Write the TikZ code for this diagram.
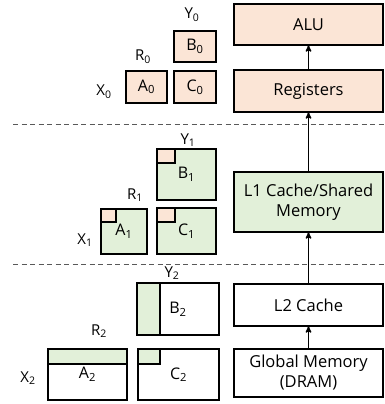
\documentclass[tikz,border=0pt]{standalone}
\usepackage{fontspec}
\setmainfont{Open Sans}
\usetikzlibrary{arrows}

\definecolor{regfill}{HTML}{FBE5D6}
\definecolor{smemfill}{HTML}{E2F0D9}

\begin{document}
\begin{tikzpicture}
	[x=1pt,y=-1pt,>=stealth',
		level node/.style={draw,line width=1.3pt,outer sep=0pt,inner sep=0pt,minimum width=149pt,align=center,font=\fontsize{16.5}{20}\selectfont},
		tile node/.style={draw,line width=1.8pt,outer sep=0pt,inner sep=0pt,font=\fontsize{16}{19}\selectfont},
		tile part/.style={draw,line width=1.8pt},
		name node/.style={inner sep=0pt,font=\fontsize{15}{17}\selectfont},
		level line/.style={dashed,dash pattern=on 5pt off 3.5pt,line width=1pt,black!65}]

	\useasboundingbox (0,0) rectangle (384,404);

	% memory hierarchy
	\node[level node, fill=regfill, minimum height=41pt]  (ALU)  at (308.5,24.5) {ALU};
	\node[level node, fill=regfill, minimum height=42pt]  (Reg)  at (308.5,91)   {Registers};
	\node[level node, fill=smemfill, minimum height=60pt] (L1)   at (308.5,202)  {L1 Cache/Shared\\Memory};
	\node[level node, minimum height=42pt]                (L2)   at (308.5,305)  {L2 Cache};
	\node[level node, minimum height=48pt]                (Glob) at (308.5,373)  {Global Memory\\(DRAM)};

	\path[->,line width=1.3pt]
	(Reg)  edge (ALU)
	(L1)   edge (Reg)
	(L2)   edge (L1)
	(Glob) edge (L2)
	;

	% level separators
	\coordinate (s1l) at (13,124);
	\coordinate (s1r) at (384,124);
	\coordinate (s2l) at (13,264);
	\coordinate (s2r) at (384,264);
	\draw[level line] (s1l) -- (s1r);
	\draw[level line] (s2l) -- (s2r);

	% register tiles
	\node[tile node, fill=regfill, minimum width=41pt, minimum height=32pt] (A0) at (146.5,87)  {A\textsubscript{0}};
	\node[tile node, fill=regfill, minimum width=42pt, minimum height=31pt] (B0) at (195,46.5)  {B\textsubscript{0}};
	\node[tile node, fill=regfill, minimum width=42pt, minimum height=32pt] (C0) at (195,87)    {C\textsubscript{0}};
	\node[name node] (X0) at (104,92)  {X\textsubscript{0}};
	\node[name node] (R0) at (143,57)  {R\textsubscript{0}};
	\node[name node] (Y0) at (192,15)  {Y\textsubscript{0}};

	% shared memory tiles
	\node[tile node, fill=smemfill, minimum width=46pt, minimum height=45pt] (A1) at (124,231.5)   {A\textsubscript{1}};
	\node[tile node, fill=smemfill, minimum width=59pt, minimum height=51pt] (B1) at (186.5,174.5) {B\textsubscript{1}};
	\node[tile node, fill=smemfill, minimum width=59pt, minimum height=46pt] (C1) at (186.5,231)   {C\textsubscript{1}};
	\draw[tile part, fill=regfill] (A1.north west) rectangle ++(15,13);
	\draw[tile part, fill=regfill] (B1.north west) rectangle ++(18,14);
	\draw[tile part, fill=regfill] (C1.north west) rectangle ++(18,14);
	\node[name node] (X1) at (85,240)  {X\textsubscript{1}};
	\node[name node] (R1) at (135,195) {R\textsubscript{1}};
	\node[name node] (Y1) at (188,140) {Y\textsubscript{1}};

	% global memory tiles
	\node[tile node, fill=white, minimum width=79pt, minimum height=51pt] (A2) at (87.5,374.5) {A\textsubscript{2}};
	\node[tile node, fill=white, minimum width=82pt, minimum height=52pt] (B2) at (178,309)    {B\textsubscript{2}};
	\node[tile node, fill=white, minimum width=81pt, minimum height=51pt] (C2) at (178.5,374.5) {C\textsubscript{2}};
	\draw[tile part, fill=smemfill] (A2.north west) rectangle (A2.east |- 0,364);
	\draw[tile part, fill=smemfill] (B2.north west) rectangle (160,0 |- B2.south);
	\draw[tile part, fill=smemfill] (C2.north west) rectangle ++(22,15);
	\node[name node] (X2) at (28,378)  {X\textsubscript{2}};
	\node[name node] (R2) at (99,331)  {R\textsubscript{2}};
	\node[name node] (Y2) at (172,273) {Y\textsubscript{2}};

\end{tikzpicture}
\end{document}
